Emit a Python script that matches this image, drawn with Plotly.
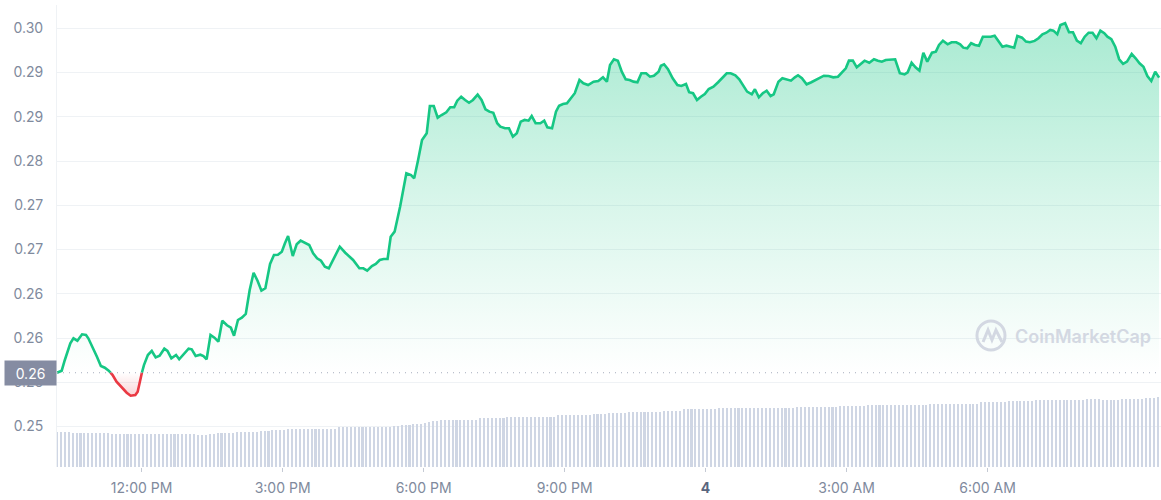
import plotly.graph_objects as go

# ---- data ----
# minutes after the first point (first point ~10:12 AM)
minutes = [0, 6, 10, 17, 21, 26, 32, 37, 40, 45,
           51, 56, 61, 66, 71, 76, 83, 89, 94, 100,
           103, 107, 111, 116, 121, 126, 131, 137, 141, 146,
           152, 156, 163, 168, 172, 177, 183, 187, 191, 196,
           201, 206, 211, 217, 222, 226, 231, 236, 241, 246,
           251, 256, 261, 266, 272, 277, 282, 287, 291, 295,
           301, 306, 311, 317, 322, 327, 332, 337, 342, 347,
           355, 361, 368, 374, 378, 386, 391, 396, 402, 407,
           412, 417, 422, 426, 431, 438, 446, 452, 456, 461,
           466, 472, 476, 481, 486, 491, 497, 502, 507, 511,
           516, 521, 526, 531, 537, 542, 547, 552, 557, 562,
           566, 572, 577, 582, 587, 592, 597, 602, 606, 611,
           617, 622, 626, 632, 637, 641, 646, 651, 656, 661,
           667, 672, 678, 685, 691, 697, 702, 706, 711, 716,
           721, 726, 731, 736, 741, 746, 752, 757, 762, 768,
           771, 775, 780, 786, 792, 797, 803, 807, 812, 817,
           822, 827, 832, 838, 844, 850, 855, 860, 866, 871,
           876, 881, 887, 891, 896, 901, 906, 911, 915, 921,
           926, 932, 937, 942, 946, 951, 957, 963, 969, 974,
           979, 985, 991, 997, 1002, 1007, 1011, 1016, 1021, 1026,
           1031, 1037, 1043, 1048, 1053, 1058, 1064, 1070, 1076, 1082,
           1086, 1091, 1096, 1101, 1106, 1111, 1117, 1122, 1126, 1131,
           1137, 1142, 1148, 1153, 1157, 1162, 1167, 1172, 1177, 1182,
           1187, 1192, 1197, 1202, 1207, 1212, 1218, 1222, 1226, 1232,
           1237, 1242, 1248, 1253, 1258, 1263, 1268, 1272, 1277, 1281,
           1287, 1292, 1297, 1302, 1307, 1312, 1317, 1322, 1327, 1332,
           1337, 1341, 1346, 1351, 1356, 1361, 1366, 1372, 1377, 1382,
           1387, 1392, 1397, 1402, 1407]

price = [0.26108, 0.26131, 0.26252, 0.26441, 0.26497, 0.26470, 0.26542, 0.26534, 0.26497, 0.26410,
         0.26289, 0.26184, 0.26165, 0.26131, 0.26082, 0.26007, 0.25939, 0.25882, 0.25848, 0.25856,
         0.25894, 0.26063, 0.26195, 0.26308, 0.26354, 0.26282, 0.26300, 0.26380, 0.26354, 0.26271,
         0.26308, 0.26260, 0.26328, 0.26380, 0.26373, 0.26297, 0.26312, 0.26297, 0.26260, 0.26534,
         0.26504, 0.26459, 0.26696, 0.26644, 0.26617, 0.26526, 0.26704, 0.26730, 0.26772, 0.27043,
         0.27238, 0.27148, 0.27035, 0.27062, 0.27337, 0.27438, 0.27442, 0.27476, 0.27571, 0.27653,
         0.27427, 0.27559, 0.27600, 0.27571, 0.27551, 0.27458, 0.27401, 0.27374, 0.27306, 0.27288,
         0.27427, 0.27532, 0.27464, 0.27419, 0.27382, 0.27288, 0.27288, 0.27261, 0.27314, 0.27337,
         0.27382, 0.27393, 0.27393, 0.27645, 0.27702, 0.27984, 0.28362, 0.28342, 0.28305, 0.28512,
         0.28738, 0.28814, 0.29122, 0.29122, 0.28990, 0.29020, 0.29051, 0.29107, 0.29107, 0.29182,
         0.29227, 0.29190, 0.29159, 0.29190, 0.29250, 0.29190, 0.29085, 0.29058, 0.29046, 0.28927,
         0.28888, 0.28870, 0.28870, 0.28775, 0.28814, 0.28945, 0.28964, 0.28956, 0.29009, 0.28927,
         0.28927, 0.28956, 0.28881, 0.28870, 0.29058, 0.29125, 0.29145, 0.29153, 0.29209, 0.29266,
         0.29416, 0.29379, 0.29359, 0.29397, 0.29404, 0.29446, 0.29397, 0.29585, 0.29650, 0.29634,
         0.29510, 0.29424, 0.29416, 0.29397, 0.29390, 0.29492, 0.29492, 0.29453, 0.29464, 0.29510,
         0.29577, 0.29593, 0.29537, 0.29435, 0.29359, 0.29348, 0.29371, 0.29277, 0.29266, 0.29190,
         0.29227, 0.29258, 0.29314, 0.29340, 0.29390, 0.29446, 0.29492, 0.29492, 0.29469, 0.29424,
         0.29359, 0.29284, 0.29254, 0.29311, 0.29220, 0.29266, 0.29295, 0.29235, 0.29254, 0.29397,
         0.29435, 0.29424, 0.29408, 0.29446, 0.29469, 0.29435, 0.29367, 0.29390, 0.29416, 0.29446,
         0.29464, 0.29461, 0.29446, 0.29453, 0.29498, 0.29548, 0.29634, 0.29634, 0.29559, 0.29593,
         0.29634, 0.29611, 0.29650, 0.29634, 0.29623, 0.29642, 0.29650, 0.29650, 0.29492, 0.29480,
         0.29503, 0.29611, 0.29559, 0.29521, 0.29724, 0.29623, 0.29724, 0.29736, 0.29811, 0.29860,
         0.29819, 0.29842, 0.29842, 0.29819, 0.29781, 0.29774, 0.29831, 0.29811, 0.29803, 0.29905,
         0.29905, 0.29905, 0.29916, 0.29857, 0.29792, 0.29803, 0.29792, 0.29781, 0.29913, 0.29894,
         0.29849, 0.29842, 0.29857, 0.29887, 0.29932, 0.29950, 0.29981, 0.29973, 0.29932, 0.30037,
         0.30057, 0.29955, 0.29955, 0.29860, 0.29831, 0.29905, 0.29950, 0.29950, 0.29887, 0.29973,
         0.29944, 0.29905, 0.29876, 0.29792, 0.29650, 0.29597, 0.29623, 0.29710, 0.29661, 0.29605,
         0.29566, 0.29461, 0.29404, 0.29510, 0.29442]

# 24h volume bars, one every 5 minutes (arbitrary units)
volume = [35, 35, 35, 35, 34.5, 34.5, 34.5, 34.5, 34.5, 34.5, 34.5, 34.5, 34, 34,
          33, 33, 33, 33, 33, 33, 33, 33, 33, 33, 33, 33, 33, 33, 33, 33, 33, 33, 33, 33, 33, 33,
          32.5, 32.5, 32, 33, 33.5,
          34, 34, 34, 34, 34,
          35, 35, 35, 35, 35, 35,
          36, 36, 36.5, 37, 37, 37.5, 37.5,
          38.5, 38.5, 38.5, 38.5, 38.5, 38.5, 38.5, 38.5, 38.5, 38.5, 38.5, 38.5, 38.5,
          40, 40, 40, 40, 40, 40, 40, 40, 40, 40, 40, 40, 40, 40,
          41, 41, 42, 42.5, 42.5, 43, 43, 43.5,
          44.5, 45, 46, 46.5, 47, 47, 47, 47.5, 47.5, 47.5, 47.5, 47.5, 47.5, 47.5,
          49, 49, 49, 49, 49, 49, 49,
          50.5, 50.5, 50.5, 50.5, 50.5, 50.5, 50.5, 50.5, 50.5, 50.5, 50.5, 50.5, 50.5,
          52, 52, 52, 52, 52, 52.5, 52.5, 52.5, 52.5, 53, 53, 53, 53,
          54, 54, 54, 54, 54,
          55.5, 55.5, 55.5, 55.5, 55.5, 55.5, 55.5, 55.5, 55.5,
          56.5, 56.5, 56.5, 56.5, 56.5,
          58, 58, 58, 58, 58, 58, 58, 58, 58,
          59, 59, 59, 59, 59, 59, 59, 59, 59, 59, 59, 59, 59, 59, 59, 59, 59, 59, 59, 59,
          60, 60, 60, 60, 60, 60.5, 60.5, 60.5, 60.5, 60.5, 60.5,
          61, 61, 61, 61, 61, 61, 61,
          62, 62, 62, 62, 62, 62, 62, 62, 62, 62, 62, 62, 62, 62, 62, 62,
          63.5, 63.5, 63.5, 63.5, 63.5, 63.5, 63.5, 63.5, 63.5, 63.5, 63.5, 63.5, 63.5,
          65, 65, 65, 65, 65, 65, 65,
          66, 66, 66, 66, 66, 66, 66,
          67, 67, 67, 67, 67, 67, 67, 67, 67, 67, 67, 67, 67,
          68, 68, 68, 68,
          67, 67, 67, 67, 67,
          68, 68, 68, 68, 68, 68,
          69, 69, 69.5, 70]
volume_minutes = [5 * i for i in range(len(volume))]

y_tick_values = [0.300, 0.295, 0.290, 0.285, 0.280, 0.275, 0.270, 0.265, 0.260, 0.255]
y_tick_labels = ["0.30", "0.29", "0.29", "0.28", "0.27", "0.27", "0.26", "0.26", "0.26", "0.25"]
x_tick_values = [108, 288, 468, 648, 828, 1008, 1188]
x_tick_labels = ["12:00 PM", "3:00 PM", "6:00 PM", "9:00 PM",
                 "<span style='color:#58667e'><b>4</b></span>", "3:00 AM", "6:00 AM"]
current_label = "0.26"

# ---- styling ----
GREEN = "#16c784"
RED = "#ea3943"
GRID = "#eff2f5"
TXT = "#808a9d"
FONT = "Inter, Roboto, sans-serif"

base = price[0]

# insert crossing points with the opening price so the line can change colour
xs, ys = [], []
for i in range(len(price)):
    if i > 0:
        p0, p1 = price[i - 1], price[i]
        if (p0 - base) * (p1 - base) < 0:
            t = (base - p0) / (p1 - p0)
            xs.append(minutes[i - 1] + t * (minutes[i] - minutes[i - 1]))
            ys.append(base)
    xs.append(minutes[i])
    ys.append(price[i])

green_line = [y if y >= base else None for y in ys]
red_line = [y if y <= base else None for y in ys]
up_fill = [max(y, base) for y in ys]
dn_fill = [min(y, base) for y in ys]
base_arr = [base for _ in ys]

fig = go.Figure()

fig.add_trace(go.Bar(x=volume_minutes, y=volume, yaxis="y2", width=2.6,
                     marker=dict(color="#cfd6e4", line=dict(width=0)),
                     hoverinfo="skip", showlegend=False))

# green area (above the opening price)
fig.add_trace(go.Scatter(x=xs, y=base_arr, mode="lines", line=dict(width=0),
                         hoverinfo="skip", showlegend=False))
fig.add_trace(go.Scatter(x=xs, y=up_fill, mode="lines", line=dict(width=0),
                         fill="tonexty",
                         fillgradient=dict(type="vertical",
                                           colorscale=[[0, "rgba(22,199,132,0)"],
                                                       [0.5, "rgba(22,199,132,0.17)"],
                                                       [1, "rgba(22,199,132,0.37)"]],
                                           start=base, stop=max(price)),
                         hoverinfo="skip", showlegend=False))
# red area (below the opening price)
fig.add_trace(go.Scatter(x=xs, y=base_arr, mode="lines", line=dict(width=0),
                         hoverinfo="skip", showlegend=False))
fig.add_trace(go.Scatter(x=xs, y=dn_fill, mode="lines", line=dict(width=0),
                         fill="tonexty",
                         fillgradient=dict(type="vertical",
                                           colorscale=[[0, "rgba(234,57,67,0.22)"],
                                                       [1, "rgba(234,57,67,0)"]],
                                           start=min(price), stop=base),
                         hoverinfo="skip", showlegend=False))

fig.add_trace(go.Scatter(x=xs, y=green_line, mode="lines",
                         line=dict(color=GREEN, width=2.6), showlegend=False))
fig.add_trace(go.Scatter(x=xs, y=red_line, mode="lines",
                         line=dict(color=RED, width=2.6), showlegend=False))

# dotted line at opening price
fig.add_shape(type="line", xref="paper", x0=0, x1=1, yref="y", y0=base, y1=base,
              line=dict(color="#a6adbd", width=1, dash="1px,5px"), layer="above")

# current-price box
fig.add_annotation(xref="paper", x=0, xanchor="right", yref="y", y=base, yanchor="middle",
                   text=current_label, showarrow=False, width=45, height=18, borderpad=3,
                   bgcolor="#858ca2", font=dict(family=FONT, size=14, color="white"))

# watermark
WM = "#d3d8e2"
fig.add_shape(type="circle", xref="paper", yref="paper",
              x0=0.8333, x1=0.8587, y0=0.2532, y1=0.3160,
              line=dict(color=WM, width=3))
fig.add_shape(type="path", xref="paper", yref="paper",
              path="M 0.8388,0.2706 L 0.8433,0.2965 L 0.8469,0.2749 L 0.8505,0.2965 L 0.8560,0.2706",
              line=dict(color=WM, width=3))
fig.add_annotation(xref="paper", yref="paper", x=0.9293, y=0.2835, xanchor="center",
                   yanchor="middle", text="CoinMarketCap", showarrow=False,
                   font=dict(family=FONT, size=18, color=WM, weight=600))

fig.update_layout(
    width=1161, height=500,
    margin=dict(l=57, r=0, t=5, b=33, autoexpand=False),
    paper_bgcolor="white", plot_bgcolor="white",
    showlegend=False,
    bargap=0,
    hovermode=False,
    font=dict(family=FONT, color=TXT),
    xaxis=dict(range=[0, 1409.4], tickvals=x_tick_values, ticktext=x_tick_labels,
               automargin=False,
               showgrid=False, zeroline=False, showline=False,
               ticks="outside", ticklen=4, tickcolor="#c5cad4", tickwidth=1,
               ticklabelstandoff=4,
               tickfont=dict(family=FONT, size=14, color=TXT)),
    yaxis=dict(range=[0.25043, 0.30263], tickvals=y_tick_values, ticktext=y_tick_labels,
               automargin=False,
               showgrid=True, gridcolor=GRID, gridwidth=1, zeroline=False,
               showline=True, linecolor=GRID, linewidth=1,
               ticks="", ticklabelstandoff=10,
               tickfont=dict(family=FONT, size=14, color=TXT)),
    yaxis2=dict(range=[0, 462], overlaying="y", visible=False, showgrid=False),
)

fig.write_html("out.html",
               config={"displayModeBar": False},
               post_script="document.body.style.margin='0';document.body.style.overflow='hidden';")
